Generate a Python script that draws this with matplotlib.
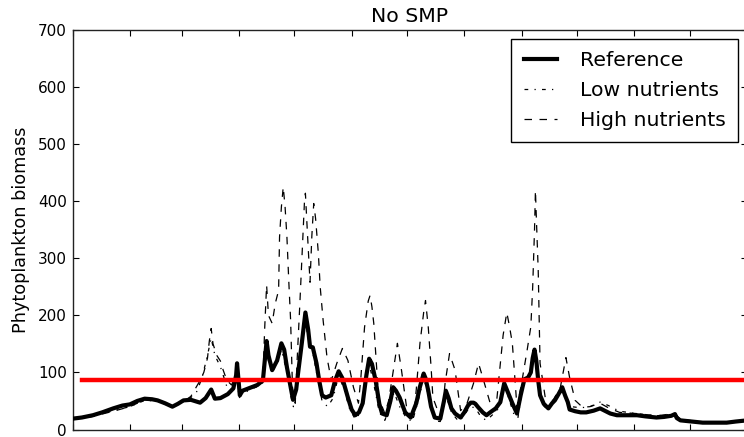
import matplotlib
matplotlib.use("Agg")
import matplotlib.pyplot as plt

# ---------------- data ----------------
ref_days = [0, 5, 11, 16, 22, 27, 31, 35, 39, 43, 46, 50, 54, 57, 60, 64, 69, 72, 75, 77,
            80, 84, 87, 88.5, 89, 89.7, 90.5, 92, 96, 100, 103, 104, 105, 106, 108, 110.7,
            113, 114.5, 116, 118, 119.3, 121, 122, 124, 126, 127.5, 128.5, 130, 131, 132,
            133.5, 135, 137, 140, 142, 144, 146, 149, 151, 153, 155, 157, 159, 160.5, 162,
            164, 166, 167.5, 170, 172, 173.5, 175, 177, 180, 183, 186, 188, 190, 191, 192.5,
            194, 196, 199, 201, 202, 203.5, 205, 207, 210, 212, 214, 215.5, 217, 218, 219.5,
            222, 224, 226, 229, 231.5, 233.6, 235, 238, 240.5, 242.5, 244.5, 246.5, 248, 249,
            250, 251, 252, 253, 255, 257.5, 259.5, 261, 263, 265, 266.5, 268, 269, 272, 275,
            278, 282, 285.5, 288, 291, 294.6, 300, 305.5, 310, 316, 320, 324, 326, 327, 329,
            335, 341, 348, 354, 359, 365]
ref_vals = [19, 21, 25, 30, 37, 42, 44, 50, 54, 53, 51, 46, 40, 45, 51, 52, 47, 55, 70, 54,
            55, 62, 72, 95, 116, 90, 60, 68, 73, 78, 86, 120, 155, 130, 104, 121,
            151, 140, 109, 75, 52, 70, 98, 150, 205, 175, 145, 144, 130, 116,
            85, 60, 56, 60, 85, 102, 90, 56, 35, 25, 30, 46, 95, 124, 115,
            86, 45, 28, 25, 50, 74, 68, 56, 30, 21, 46, 75, 98, 90, 68,
            40, 21, 19, 50, 68, 55, 37, 28, 21, 30, 42, 47, 47, 45, 39,
            30, 25, 30, 37, 48, 81, 70, 46, 28, 60, 88, 91, 100, 125,
            140, 120, 86, 60, 45, 37, 46, 51, 62, 74, 60, 48, 35, 32, 30,
            30, 33, 37, 33, 28, 25, 25, 25, 23, 21, 22, 24, 27, 20, 16,
            14, 12, 12, 12, 14, 16]

low_days = [0, 11, 22, 31, 39, 46, 54, 60, 64, 67, 70, 73, 75, 77, 80, 82, 84, 87, 89, 90,
            92, 96, 100, 103, 105, 106, 108, 111, 113, 116, 118, 119.5, 122, 124, 126, 128,
            130, 132, 135, 138, 141, 144, 147, 150, 153, 156, 158, 160.5, 163, 166, 169, 172,
            174, 177, 181, 184, 187, 190, 193, 196, 199, 202, 205, 209, 212, 215, 218, 221,
            224, 228, 231, 234, 236, 239, 241, 244, 247, 250, 252, 254, 257, 260, 263, 266,
            268, 270, 275, 280, 285.5, 290, 296, 305, 316, 326, 329, 341, 354, 365]
low_vals = [18, 23, 33, 40, 51, 50, 39, 49, 56, 65, 90, 130, 160, 130, 110, 90, 70, 70, 105, 55,
            62, 70, 75, 82, 140, 120, 100, 118, 140, 100, 60, 40, 90, 140, 190, 150,
            135, 100, 50, 40, 55, 95, 70, 35, 18, 30, 80, 115, 80, 30, 16, 45,
            65, 40, 18, 15, 50, 90, 55, 15, 14, 60, 30, 14, 25, 40, 38, 22,
            16, 28, 38, 75, 55, 25, 20, 85, 95, 135, 80, 45, 35, 45, 60, 70,
            50, 40, 38, 40, 48, 42, 32, 28, 24, 27, 17, 13, 13, 17]

high_days = [0, 11, 22, 31, 39, 46, 54, 60, 64, 67, 69, 71, 73, 74, 75, 76, 78, 80, 81.5, 83.5,
             86, 88.5, 89, 90, 92, 96, 100, 103, 104, 105, 106, 108, 109.7, 111.5, 112, 113,
             114, 115, 116, 117, 118, 119, 120.5, 121.5, 123, 124.5, 125.5, 126, 127, 128.5,
             129.5, 130.5, 131.5, 133, 134, 135.6, 137.7, 140, 143, 146, 149, 152, 154.7, 156,
             158, 160, 161, 162, 163, 164.5, 165.6, 169, 171, 173, 175.8, 178, 181, 184.5, 186,
             188, 190, 191, 192.5, 194, 195, 199, 200.5, 201.6, 204, 207, 210, 213.5, 217,
             219.7, 222, 226, 229, 231.5, 233, 235, 236.5, 238, 240.5, 243, 246, 248, 249, 250,
             250.5, 251, 252, 253, 255.8, 260, 264, 265.5, 267, 269, 272, 276, 280, 285.5, 290,
             296, 305, 316, 326, 329, 341, 354, 365]
high_vals = [18, 23, 32, 40, 52, 50, 39, 49, 58, 75, 86, 100, 125, 155, 177, 150, 130, 120, 104, 86,
             78, 95, 115, 62, 66, 72, 78, 91, 180, 253, 200, 186, 221, 244, 337, 390,
             425, 390, 337, 260, 191, 74, 46, 120, 221, 330, 400, 414, 350, 258,
             340, 396, 370, 309, 250, 191, 126, 86, 116, 142, 121, 74, 46, 90,
             179, 225, 235, 215, 186, 110, 56, 28, 50, 91, 151, 104, 33, 21, 70,
             151, 205, 226, 179, 110, 56, 21, 45, 81, 133, 104, 33, 46, 81,
             116, 91, 46, 33, 116, 165, 205, 180, 151, 39, 81, 139, 180, 249, 350,
             419, 370, 279, 116, 56, 51, 74, 100, 126, 91, 51, 39, 40, 46, 38,
             30, 28, 24, 28, 18, 13, 13, 17]

threshold = 87
month_ticks = [0, 31, 59, 90, 120, 151, 181, 212, 243, 273, 304, 334, 365]
y_ticks = [0, 100, 200, 300, 400, 500, 600, 700]

# ---------------- plot ----------------
fig = plt.figure(figsize=(7.44, 4.37), dpi=100)
ax = fig.add_axes([72.6 / 744, (437 - 429.5) / 437, (747 - 72.6) / 744, (429.5 - 30) / 437])

ax.plot(ref_days, ref_vals, color="black", lw=3, label="Reference", zorder=3)
ax.plot(low_days, low_vals, color="black", lw=0.9, dashes=(3, 5, 1, 5), label="Low nutrients", zorder=2)
ax.plot(high_days, high_vals, color="black", lw=0.9, dashes=(6, 6), label="High nutrients", zorder=2)
ax.plot([5, 365], [threshold, threshold], color="red", lw=3.2, zorder=4)

ax.set_xlim(0, 365)
ax.set_ylim(0, 700)
ax.set_xticks(month_ticks)
ax.set_xticklabels([])
ax.set_yticks(y_ticks)
ax.set_yticklabels([str(v) for v in y_ticks], fontsize=11)
ax.tick_params(direction="in", top=True, right=True, length=4.5, width=0.8, pad=4, colors="black")
for s in ax.spines.values():
    s.set_linewidth(1.0)
    s.set_color("#222222")

ax.set_ylabel("Phytoplankton biomass", fontsize=12.7, labelpad=6)
ax.set_title("No SMP", fontsize=14.7, pad=6)

leg = ax.legend(loc="upper right", fontsize=14.7, frameon=True, fancybox=False,
                framealpha=1, edgecolor="black", handlelength=1.65, handletextpad=1.1,
                labelspacing=0.52, borderpad=0.6, borderaxespad=0.45)
leg.get_frame().set_linewidth(1.0)

fig.savefig("out.png", dpi=100)
